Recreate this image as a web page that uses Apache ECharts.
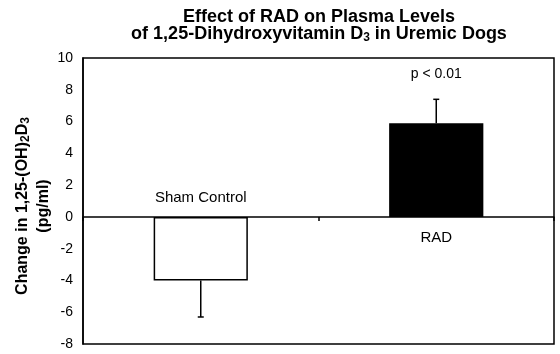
<!DOCTYPE html>
<html lang="en">
<head>
<meta charset="UTF-8">
<title>Effect of RAD on Plasma Levels</title>
<script src="https://cdn.jsdelivr.net/npm/echarts@6/dist/echarts.min.js"></script>
<style>
  html, body { margin: 0; padding: 0; background: #fff; }
  #main { width: 560px; height: 354px; }
</style>
</head>
<body>
<div id="main"></div>
<script>
// groups on the x axis
var categories = ['Sham Control', 'RAD'];
// mean change in 1,25-(OH)2D3, pg/ml
var meanChange = [-4.0, 5.9];
// error bar length (drawn away from zero)
var errChange = [2.3, 1.5];
// significance notes above the error bars
var sigNotes = ['', 'p < 0.01'];
// y axis range
var yMin = -8, yMax = 10, yStep = 2;

var FONT = '"Liberation Sans", Arial, sans-serif';

var chart = echarts.init(document.getElementById('main'));

var errData = [];
for (var i = 0; i < categories.length; i++) {
    errData.push([i, meanChange[i], errChange[i]]);
}

// subscript style for rich text
function subStyle(size, drop) {
    return { fontFamily: FONT, fontWeight: 'bold', fontSize: size, padding: [drop, 0, 0, 0], fill: '#000' };
}

var option = {
    animation: false,
    grid: {
        left: 83, right: 6, top: 58, bottom: 10,
        show: true, borderColor: '#000', borderWidth: 1.5,
        containLabel: false
    },
    graphic: [
        // title, two lines centred over the plot
        { type: 'text', x: 319, y: 17, style: {
            text: 'Effect of RAD on Plasma Levels',
            font: 'bold 18px ' + FONT, fill: '#000',
            align: 'center', verticalAlign: 'middle' } },
        { type: 'text', x: 319, y: 34, style: {
            text: 'of 1,25-Dihydroxyvitamin D{s|3} in Uremic Dogs',
            font: 'bold 18px ' + FONT, fill: '#000',
            align: 'center', verticalAlign: 'middle',
            rich: { s: subStyle(12, 7) } } },
        // y axis name
        { type: 'text', x: 12, y: 206, rotation: Math.PI / 2, style: {
            text: 'Change in 1,25-(OH){s|2}D{s|3}\n(pg/ml)',
            font: 'bold 16px ' + FONT, fill: '#000',
            align: 'center', verticalAlign: 'top', lineHeight: 21,
            rich: { s: subStyle(12, 6) } } }
    ],
    xAxis: {
        type: 'category',
        data: categories,
        axisLine: { onZero: true, lineStyle: { color: '#000', width: 1.5 } },
        axisTick: { show: true, length: 4, lineStyle: { color: '#000', width: 1.5 } },
        axisLabel: { show: false },
        splitLine: { show: false }
    },
    yAxis: {
        type: 'value',
        min: yMin, max: yMax, interval: yStep,
        axisLine: { show: true, lineStyle: { color: '#000', width: 1.5 } },
        axisTick: { show: false },
        splitLine: { show: false },
        axisLabel: { color: '#000', fontSize: 14, fontFamily: FONT, margin: 10 }
    },
    series: [
        {
            type: 'bar',
            data: meanChange.map(function (v, k) {
                return {
                    value: v,
                    itemStyle: k === 0
                        ? { color: '#fff', borderColor: '#000', borderWidth: 1.5 }
                        : { color: '#000', borderColor: '#000', borderWidth: 1.5 }
                };
            }),
            barWidth: '40%',
            z: 1
        },
        {
            // error bars, group labels and the p value note
            type: 'custom',
            data: errData,
            z: 5,
            renderItem: function (params, api) {
                var idx = api.value(0);
                var m = api.value(1);
                var e = api.value(2);
                var dir = m < 0 ? -1 : 1;
                var p0 = api.coord([idx, m]);
                var p1 = api.coord([idx, m + dir * e]);
                var z0 = api.coord([idx, 0]);
                var kids = [
                    { type: 'line', shape: { x1: p0[0], y1: p0[1], x2: p1[0], y2: p1[1] },
                      style: { stroke: '#000', lineWidth: 1.5 } },
                    { type: 'line', shape: { x1: p1[0] - 3, y1: p1[1], x2: p1[0] + 3, y2: p1[1] },
                      style: { stroke: '#000', lineWidth: 1.5 } },
                    { type: 'text', x: z0[0], y: z0[1] + (m < 0 ? -19 : 21), style: {
                        text: categories[idx], font: '15px ' + FONT, fill: '#000',
                        align: 'center', verticalAlign: 'middle' } }
                ];
                if (sigNotes[idx]) {
                    kids.push({ type: 'text', x: p1[0], y: p1[1] - 25, style: {
                        text: sigNotes[idx], font: '14px ' + FONT, fill: '#000',
                        align: 'center', verticalAlign: 'middle' } });
                }
                return { type: 'group', children: kids };
            }
        }
    ]
};

chart.setOption(option);
</script>
</body>
</html>
